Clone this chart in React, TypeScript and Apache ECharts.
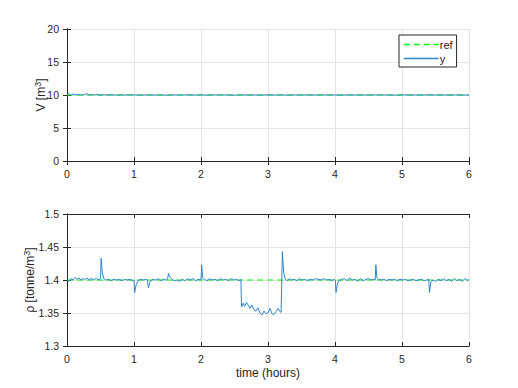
import React, { useEffect, useRef } from "react";
import * as echarts from "echarts";

// ---- data ----
const refTime = [0, 6];
const vRef = [10, 10];
const rhoRef = [1.4, 1.4];

const vTime = [0, 0.03, 0.06, 0.09, 0.12, 0.15, 0.2, 0.25, 0.3, 0.33, 0.36, 0.4, 0.45, 0.5, 0.55, 0.6, 0.65, 0.7, 0.75, 0.8, 0.85, 0.9, 0.95, 1.0, 1.1, 1.2, 1.3, 1.4, 1.5, 1.6, 1.7, 1.8, 1.9, 2.0, 2.1, 2.2, 2.3, 2.4, 2.5, 2.6, 2.7, 2.8, 2.9, 3.0, 3.1, 3.2, 3.3, 3.4, 3.5, 3.6, 3.7, 3.8, 3.9, 4.0, 4.1, 4.2, 4.3, 4.4, 4.5, 4.6, 4.7, 4.8, 4.9, 5.0, 5.1, 5.2, 5.3, 5.4, 5.5, 5.6, 5.7, 5.8, 5.9, 6.0];
const vValues = [10.1, 10.22, 9.88, 10.2, 10.0, 10.1, 10.0, 10.06, 10.2, 9.95, 10.1, 10.0, 10.08, 9.97, 10.05, 10.0, 10.04, 10.02, 9.97, 10.04, 9.98, 10.04, 9.99, 10.02, 9.98, 10.02, 9.99, 10.01, 9.98, 10.02, 10.0, 10.02, 9.99, 10.01, 9.98, 10.02, 10.0, 10.01, 9.98, 10.02, 10.0, 10.01, 9.99, 10.02, 9.99, 10.01, 9.98, 10.02, 10.0, 10.01, 9.99, 10.02, 10.0, 10.01, 9.98, 10.02, 10.0, 10.01, 9.99, 10.02, 10.0, 10.01, 9.98, 10.02, 10.0, 10.01, 9.99, 10.02, 10.0, 10.01, 9.99, 10.02, 9.99, 10.0];

const rhoTime = [
  0.00, 0.03, 0.06, 0.09, 0.12, 0.15, 0.18, 0.21, 0.24, 0.27, 0.30, 0.33, 0.36, 0.40, 0.44, 0.48,
  0.50, 0.51, 0.525, 0.55, 0.58, 0.62, 0.66, 0.70, 0.74, 0.78, 0.82, 0.86, 0.90, 0.94, 0.98,
  1.00, 1.01, 1.03, 1.06, 1.10, 1.14, 1.18, 1.20, 1.215, 1.24, 1.28, 1.32, 1.36, 1.40, 1.44, 1.48,
  1.50, 1.515, 1.54, 1.57, 1.60, 1.64, 1.68, 1.72, 1.76, 1.80, 1.84, 1.88, 1.92, 1.96,
  2.00, 2.01, 2.025, 2.05, 2.09, 2.13, 2.17, 2.21, 2.25, 2.29, 2.33, 2.37, 2.41, 2.45, 2.49, 2.53, 2.57,
  2.595, 2.605, 2.63, 2.65, 2.68, 2.71, 2.73, 2.76, 2.79, 2.82, 2.85, 2.88, 2.91, 2.94, 2.97, 3.00,
  3.03, 3.06, 3.09, 3.12, 3.15, 3.18, 3.195, 3.215, 3.235, 3.26, 3.29, 3.32, 3.35, 3.39, 3.43, 3.47,
  3.51, 3.55, 3.59, 3.63, 3.67, 3.71, 3.75, 3.79, 3.83, 3.87, 3.91, 3.95, 3.99,
  4.005, 4.015, 4.035, 4.06, 4.10, 4.14, 4.18, 4.22, 4.26, 4.30, 4.34, 4.38, 4.42, 4.46, 4.50, 4.54, 4.58,
  4.60, 4.61, 4.625, 4.65, 4.69, 4.73, 4.77, 4.81, 4.85, 4.89, 4.93, 4.97, 5.01, 5.05, 5.09, 5.13,
  5.17, 5.21, 5.25, 5.29, 5.33, 5.37, 5.40, 5.41, 5.43, 5.46, 5.50, 5.54, 5.58, 5.62, 5.66, 5.70,
  5.74, 5.78, 5.82, 5.86, 5.90, 5.94, 5.98, 6.00,
];
const rhoValues = [
  1.400, 1.398, 1.402, 1.400, 1.404, 1.401, 1.403, 1.400, 1.402, 1.401, 1.403, 1.400, 1.402, 1.401, 1.402, 1.400,
  1.402, 1.433, 1.412, 1.402, 1.400, 1.401, 1.399, 1.401, 1.400, 1.401, 1.399, 1.401, 1.400, 1.401, 1.399,
  1.400, 1.381, 1.392, 1.399, 1.401, 1.400, 1.401, 1.400, 1.388, 1.398, 1.401, 1.400, 1.402, 1.399, 1.401, 1.400,
  1.401, 1.410, 1.404, 1.401, 1.399, 1.400, 1.398, 1.401, 1.399, 1.402, 1.400, 1.402, 1.399, 1.401,
  1.400, 1.423, 1.403, 1.401, 1.399, 1.402, 1.400, 1.401, 1.399, 1.402, 1.400, 1.401, 1.399, 1.402, 1.400, 1.401, 1.399,
  1.401, 1.359, 1.365, 1.360, 1.366, 1.361, 1.357, 1.362, 1.355, 1.353, 1.358, 1.350, 1.347, 1.353, 1.349, 1.350,
  1.357, 1.349, 1.348, 1.352, 1.357, 1.352, 1.351, 1.443, 1.410, 1.401, 1.399, 1.402, 1.400, 1.401, 1.399, 1.402,
  1.400, 1.401, 1.399, 1.401, 1.400, 1.402, 1.401, 1.400, 1.402, 1.400, 1.401, 1.399, 1.401,
  1.400, 1.381, 1.394, 1.399, 1.401, 1.402, 1.399, 1.403, 1.400, 1.401, 1.398, 1.402, 1.399, 1.401, 1.402, 1.400, 1.401,
  1.400, 1.423, 1.404, 1.401, 1.400, 1.401, 1.399, 1.401, 1.400, 1.401, 1.399, 1.401, 1.400, 1.401, 1.399, 1.400,
  1.401, 1.399, 1.400, 1.401, 1.399, 1.400, 1.401, 1.381, 1.396, 1.400, 1.398, 1.401, 1.399, 1.402, 1.399, 1.401,
  1.398, 1.402, 1.399, 1.401, 1.398, 1.402, 1.399, 1.401,
];

const xTicks = { min: 0, max: 6, interval: 1 };
const vTicks = { min: 0, max: 20, interval: 5 };
const rhoTicks = { min: 1.3, max: 1.5, interval: 0.05 };

const pairs = (t: number[], v: number[]) => t.map((x, i) => [x, v[i]]);

const TXT = "#262626";
const GRID = "#e4e4e4";
const FONT = "Liberation Sans, Arial, sans-serif";
const BLUE = "#2f86cf";
const GREEN = "#00ff00";

export default function App() {
  const ref = useRef<HTMLDivElement>(null);
  useEffect(() => {
    if (!ref.current) return;
    const chart = echarts.init(ref.current, undefined, { renderer: "svg" });
    const axisLine = { show: true, lineStyle: { color: TXT, width: 1 } };
    const axisTick = { show: true, inside: true, length: 4, lineStyle: { color: TXT } };
    const label = { color: TXT, fontSize: 10.5, fontFamily: FONT };
    const fmt = (v: number) => String(parseFloat(v.toFixed(3)));
    const xMain = (gridIndex: number, name: string) => ({
      type: "value", gridIndex, ...xTicks, position: "bottom",
      axisLine, axisTick, axisLabel: { ...label, margin: 7, formatter: fmt },
      splitLine: { show: true, lineStyle: { color: GRID } },
      name, nameLocation: "middle", nameGap: 21, nameMoveOverlap: false,
      nameTextStyle: { color: TXT, fontSize: 12, fontFamily: FONT, verticalAlign: "top" },
    });
    const xTop = (gridIndex: number) => ({
      type: "value", gridIndex, ...xTicks, position: "top",
      axisLine, axisTick, axisLabel: { show: false }, splitLine: { show: false },
    });
    const rich = { sup: { fontSize: 9, fontFamily: FONT, color: TXT, verticalAlign: "top", padding: [0, 0, 7, 0] } };
    const yMain = (gridIndex: number, t: any, name: string, gap: number) => ({
      type: "value", gridIndex, ...t, position: "left",
      axisLine, axisTick, axisLabel: { ...label, margin: 8, formatter: fmt },
      splitLine: { show: true, lineStyle: { color: GRID } },
      name, nameLocation: "middle", nameGap: gap, nameRotate: 90, nameMoveOverlap: false,
      nameTextStyle: { color: TXT, fontSize: 12, fontFamily: FONT, rich },
    });
    const yRight = (gridIndex: number, t: any) => ({
      type: "value", gridIndex, ...t, position: "right",
      axisLine, axisTick, axisLabel: { show: false }, splitLine: { show: false },
    });
    const line = (name: string, idx: number, data: number[][], color: string, dashed: boolean, z: number) => ({
      type: "line", name, xAxisIndex: idx, yAxisIndex: idx, data,
      symbol: "none", showSymbol: false, z,
      lineStyle: { color, width: 1, type: dashed ? [6, 4] : "solid" },
      itemStyle: { color },
    });
    chart.setOption({
      animation: false,
      backgroundColor: "#ffffff",
      grid: [
        { left: 67, top: 29, width: 402, height: 132 },
        { left: 67, top: 214, width: 402, height: 132 },
      ],
      xAxis: [xMain(0, ""), xMain(1, "time (hours)"), xTop(0), xTop(1)],
      yAxis: [
        yMain(0, vTicks, "V [m{sup|3}]", 18),
        yMain(1, rhoTicks, "ρ [tonne/m{sup|3}]", 29),
        yRight(0, vTicks),
        yRight(1, rhoTicks),
      ],
      legend: {
        data: ["ref", "y"],
        orient: "vertical",
        left: 399, top: 35,
        padding: [4, 4, 3, 4],
        itemGap: 3,
        itemWidth: 35, itemHeight: 10,
        backgroundColor: "#ffffff",
        borderColor: TXT, borderWidth: 1,
        itemStyle: { opacity: 0 },
        lineStyle: { width: 1.5 },
        textStyle: { color: TXT, fontSize: 11, fontFamily: FONT, padding: [0, 0, 0, -4] },
      },
      series: [
        line("ref", 0, pairs(refTime, vRef), GREEN, true, 2),
        line("y", 0, pairs(vTime, vValues), BLUE, false, 3),
        line("ref", 1, pairs(refTime, rhoRef), GREEN, true, 2),
        line("y", 1, pairs(rhoTime, rhoValues), BLUE, false, 3),
      ],
    });
    return () => chart.dispose();
  }, []);
  return <div ref={ref} style={{ position: "absolute", left: 0, top: 0, width: 518, height: 388 }} />;
}
